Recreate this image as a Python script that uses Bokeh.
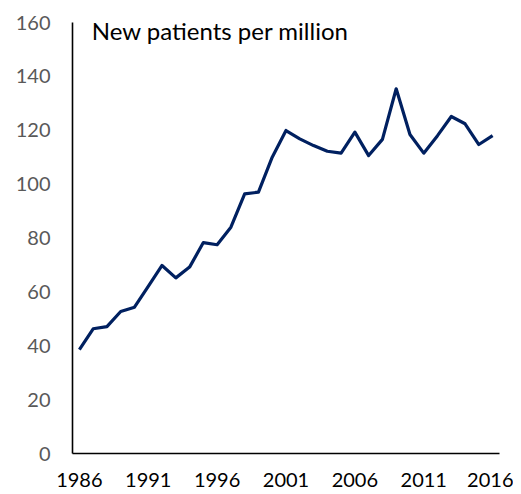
from bokeh.plotting import figure
from bokeh.models import Label, FixedTicker, Range1d
from bokeh.embed import file_html
from bokeh.resources import INLINE

years = list(range(1986, 2017))
values = [38.6, 46.3, 47.1, 52.7, 54.3, 62.0, 69.8, 65.2, 69.2, 78.3,
          77.5, 84.0, 96.4, 97.0, 110.0, 119.9, 116.8, 114.3, 112.2, 111.5,
          119.3, 110.6, 116.6, 135.4, 118.4, 111.5, 118.0, 125.1, 122.4, 114.7,
          118.0]
x_ticks = [1986, 1991, 1996, 2001, 2006, 2011, 2016]
y_ticks = [0, 20, 40, 60, 80, 100, 120, 140, 160]
title_text = "New patients per million"

p = figure(frame_width=427, frame_height=431, output_backend="svg",
           toolbar_location=None, x_range=Range1d(1985.5, 2016.5),
           y_range=Range1d(0, 160),
           min_border_left=72, min_border_top=22, min_border_right=14,
           min_border_bottom=41)
p.outline_line_color = None
p.grid.visible = False
p.background_fill_color = "white"
p.border_fill_color = "white"

p.line(years, values, line_color="#002060", line_width=3.2, line_join="round")

for ax in (p.xaxis[0], p.yaxis[0]):
    ax.axis_line_color = "black"
    ax.axis_line_width = 1.6
    ax.major_tick_line_color = None
    ax.minor_tick_line_color = None
    ax.major_tick_out = 0
    ax.major_tick_in = 0
    ax.major_label_text_font = "Lato"
    ax.major_label_text_font_size = "20px"

p.xaxis[0].ticker = FixedTicker(ticks=x_ticks)
p.yaxis[0].ticker = FixedTicker(ticks=y_ticks)
p.xaxis[0].major_label_text_color = "black"
p.yaxis[0].major_label_text_color = "#595959"
p.xaxis[0].major_label_standoff = 19
p.yaxis[0].major_label_standoff = 22

p.add_layout(Label(x=1986.9, y=157, text=title_text, text_font="Lato",
                   text_font_size="24px", text_color="black",
                   text_baseline="alphabetic"))

open("out.html", "w").write(file_html(p, INLINE))
